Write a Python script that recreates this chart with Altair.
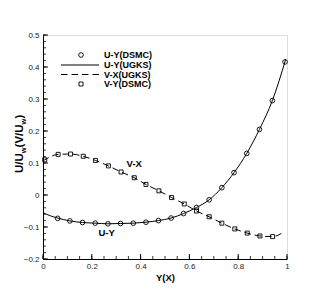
import altair as alt
import pandas as pd
import numpy as np

FONT = "Liberation Sans"

# U-Y (DSMC) circles
x_u_dsmc = [0.060, 0.110, 0.162, 0.214, 0.266, 0.318, 0.370, 0.422, 0.473, 0.525,
            0.576, 0.629, 0.681, 0.733, 0.783, 0.835, 0.887, 0.940, 0.992]
u_dsmc = [-0.073, -0.081, -0.086, -0.088, -0.090, -0.089, -0.088, -0.085, -0.080, -0.072,
          -0.058, -0.039, -0.015, 0.023, 0.070, 0.130, 0.205, 0.295, 0.416]

# U-Y (UGKS) solid line
x_u_ugks = [0.0, 0.03, 0.060, 0.110, 0.162, 0.214, 0.266, 0.318, 0.370, 0.422, 0.473, 0.525,
            0.576, 0.629, 0.681, 0.733, 0.783, 0.835, 0.887, 0.940, 0.995]
u_ugks = [-0.055, -0.065, -0.072, -0.081, -0.086, -0.088, -0.090, -0.089, -0.088, -0.085, -0.080,
          -0.072, -0.058, -0.039, -0.015, 0.023, 0.070, 0.130, 0.205, 0.295, 0.425]

# V-Y (DSMC) squares
x_v_dsmc = [0.007, 0.062, 0.113, 0.165, 0.215, 0.268, 0.320, 0.374, 0.422, 0.475,
            0.527, 0.579, 0.629, 0.681, 0.733, 0.786, 0.837, 0.889, 0.941]
v_dsmc = [0.110, 0.127, 0.128, 0.121, 0.108, 0.091, 0.072, 0.054, 0.033, 0.013,
          -0.008, -0.028, -0.050, -0.068, -0.088, -0.106, -0.119, -0.128, -0.130]

# V-X (UGKS) dashed line
x_v_ugks = [0.0, 0.007, 0.062, 0.113, 0.165, 0.215, 0.268, 0.320, 0.374, 0.422, 0.475,
            0.527, 0.579, 0.629, 0.681, 0.733, 0.786, 0.837, 0.889, 0.941, 0.99]
v_ugks = [0.107, 0.110, 0.127, 0.128, 0.121, 0.108, 0.091, 0.072, 0.054, 0.033, 0.013,
          -0.008, -0.028, -0.050, -0.068, -0.088, -0.106, -0.119, -0.128, -0.130, -0.114]

legend_labels = ["U-Y(DSMC)", "U-Y(UGKS)", "V-X(UGKS)", "V-Y(DSMC)"]
annot_text = ["V-X", "U-Y"]
annot_x = [0.374, 0.261]
annot_y = [0.098, -0.118]

x_major = [0, 0.2, 0.4, 0.6, 0.8, 1.0]
y_major = [-0.2, -0.1, 0, 0.1, 0.2, 0.3, 0.4, 0.5]
x_minor = [round(v, 2) for v in np.arange(0, 1.0001, 0.05)]
y_minor = [round(v, 2) for v in np.arange(-0.2, 0.5001, 0.02)]

W, H = 244, 224
xs = alt.Scale(domain=[0, 1], nice=False, zero=False)
ys = alt.Scale(domain=[-0.2, 0.5], nice=False, zero=False)

df_u = pd.DataFrame({"x": x_u_ugks, "y": u_ugks})
df_v = pd.DataFrame({"x": x_v_ugks, "y": v_ugks})
df_c = pd.DataFrame({"x": x_u_dsmc, "y": u_dsmc})
df_s = pd.DataFrame({"x": x_v_dsmc, "y": v_dsmc})
df_a = pd.DataFrame({"x": annot_x, "y": annot_y, "t": annot_text})

xaxis = alt.Axis(values=x_major, format="~g", ticks=False, grid=False, domainColor="black",
                 domainWidth=1, labelFont=FONT, labelFontSize=8, labelColor="#222",
                 labelPadding=3, title="Y(X)", titleFont=FONT, titleFontSize=9.5,
                 titleFontWeight="bold", titlePadding=2, titleColor="black",
                 labelFlush=False)
yaxis = alt.Axis(values=y_major, format="~g", ticks=False, grid=False, domainColor="black",
                 domainWidth=1, labelFont=FONT, labelFontSize=8, labelColor="#222",
                 labelPadding=4, title=None, labelFlush=False)

X = lambda f: alt.X(f, scale=xs, axis=xaxis)
Y = lambda f: alt.Y(f, scale=ys, axis=yaxis)

line_u = alt.Chart(df_u).mark_line(color="black", strokeWidth=1, interpolate="monotone").encode(
    x=X("x:Q"), y=Y("y:Q"))
line_v = alt.Chart(df_v).mark_line(color="black", strokeWidth=1, strokeDash=[6.5, 4],
                                   interpolate="monotone").encode(x=X("x:Q"), y=Y("y:Q"))
pts_c = alt.Chart(df_c).mark_point(shape="circle", size=22, stroke="black", strokeWidth=0.9,
                                   filled=False, opacity=1).encode(x=X("x:Q"), y=Y("y:Q"))
pts_s = alt.Chart(df_s).mark_point(shape="square", size=16, stroke="black", strokeWidth=0.9,
                                   filled=False, opacity=1).encode(x=X("x:Q"), y=Y("y:Q"))
annots = alt.Chart(df_a).mark_text(font=FONT, fontSize=9.5, fontWeight="bold", color="black").encode(
    x=X("x:Q"), y=Y("y:Q"), text="t:N")

# inward ticks
ymaj = alt.Chart(pd.DataFrame({"y": y_major})).mark_rule(color="black", strokeWidth=1).encode(
    y=Y("y:Q"), x=alt.value(0), x2=alt.value(5))
ymin = alt.Chart(pd.DataFrame({"y": y_minor})).mark_rule(color="black", strokeWidth=0.8).encode(
    y=Y("y:Q"), x=alt.value(0), x2=alt.value(3))
xmaj = alt.Chart(pd.DataFrame({"x": x_major})).mark_rule(color="black", strokeWidth=1).encode(
    x=X("x:Q"), y=alt.value(H), y2=alt.value(H - 5))
xmin = alt.Chart(pd.DataFrame({"x": x_minor})).mark_rule(color="black", strokeWidth=0.8).encode(
    x=X("x:Q"), y=alt.value(H), y2=alt.value(H - 3))

# legend
one = pd.DataFrame({"d": [0]})
ly = [20, 30, 39.5, 49]
leg_txt = alt.Chart(pd.DataFrame({"t": legend_labels, "yy": ly})).mark_text(
    font=FONT, fontSize=9, fontWeight="bold", align="left", baseline="middle", color="black").encode(
    x=alt.value(61), y=alt.Y("yy:Q", scale=None), text="t:N")
leg_c = alt.Chart(one).mark_point(shape="circle", size=22, stroke="black", strokeWidth=0.9,
                                  filled=False, opacity=1).encode(x=alt.value(38), y=alt.value(ly[0]))
leg_l = alt.Chart(one).mark_rule(color="black", strokeWidth=1).encode(
    x=alt.value(18), x2=alt.value(56), y=alt.value(ly[1]))
leg_d = alt.Chart(one).mark_rule(color="black", strokeWidth=1, strokeDash=[6.5, 4]).encode(
    x=alt.value(18), x2=alt.value(56), y=alt.value(ly[2]))
leg_s = alt.Chart(one).mark_point(shape="square", size=16, stroke="black", strokeWidth=0.9,
                                  filled=False, opacity=1).encode(x=alt.value(38), y=alt.value(ly[3]))

# y-axis title with subscripts (rotated)
pieces = [("U/U", 11.5, 0, 19.8), ("w", 7.5, 2.5, 5.8), ("(V/U", 11.5, 0, 23.0),
          ("w", 7.5, 2.5, 5.8), (")", 11.5, 0, 3.8)]
ytitle = []
ypos = 138.0
for txt, fs, dx, w in pieces:
    ytitle.append(alt.Chart(one).mark_text(text=txt, font=FONT, fontSize=fs, fontWeight="bold",
                                           angle=270, align="left", baseline="alphabetic",
                                           color="black").encode(
        x=alt.value(-20 + dx), y=alt.value(ypos)))
    ypos -= w

chart = alt.layer(line_u, line_v, pts_c, pts_s, annots, ymaj, ymin, xmaj, xmin,
                  leg_c, leg_l, leg_d, leg_s, leg_txt, *ytitle).properties(
    width=W, height=H, autosize=alt.AutoSizeParams(type="none"),
    padding={"left": 35, "top": 27, "right": 24, "bottom": 32}
).configure_view(stroke=None).configure(background="white")

chart.save("out.html", embed_options={"renderer": "svg", "actions": False})
